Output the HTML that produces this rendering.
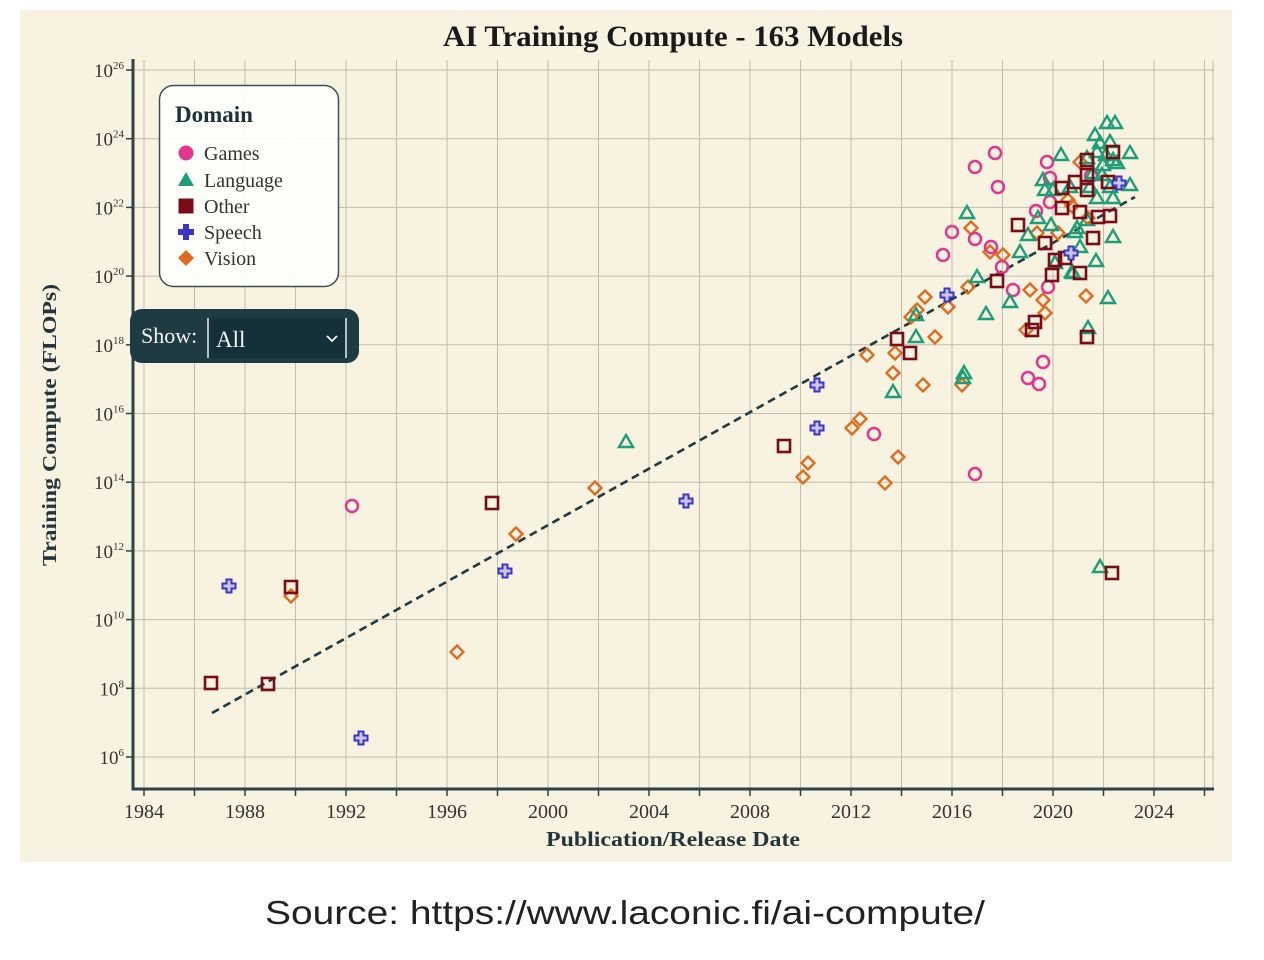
<!DOCTYPE html>
<html><head><meta charset="utf-8"><style>
html,body{margin:0;padding:0;background:#fff;}
svg{display:block;}
</style></head><body>
<svg width="1264" height="960" viewBox="0 0 1264 960" xmlns="http://www.w3.org/2000/svg">
<defs>
<path id="ci" d="M0,-6 A6,6 0 1,1 0,6 A6,6 0 1,1 0,-6Z" fill="none" stroke="#e2358d" stroke-width="2.5"/>
<path id="tr" d="M0,-7 L7,5 L-7,5Z" fill="none" stroke="#1e9e78" stroke-width="2.4" stroke-linejoin="miter"/>
<rect id="sq" x="-6" y="-6" width="12" height="12" fill="none" stroke="#7a0c17" stroke-width="2.6"/>
<path id="pl" d="M-2.5,-6.5 L2.5,-6.5 L2.5,-2.5 L6.5,-2.5 L6.5,2.5 L2.5,2.5 L2.5,6.5 L-2.5,6.5 L-2.5,2.5 L-6.5,2.5 L-6.5,-2.5 L-2.5,-2.5Z" fill="#c9c6f2" stroke="#3b35c6" stroke-width="2"/>
<path id="di" d="M0,-6.5 L6.5,0 L0,6.5 L-6.5,0Z" fill="none" stroke="#e06a1c" stroke-width="2.3"/>
</defs>
<rect x="0" y="0" width="1264" height="960" fill="#fff"/>
<rect x="20" y="10" width="1212" height="852" fill="#f8f2e1"/>

<!-- grid -->
<g stroke="#c0bcae" stroke-width="1">
<line x1="144" y1="60" x2="144" y2="789"/><line x1="194.5" y1="60" x2="194.5" y2="789"/><line x1="245" y1="60" x2="245" y2="789"/><line x1="295.5" y1="60" x2="295.5" y2="789"/><line x1="346" y1="60" x2="346" y2="789"/><line x1="396.5" y1="60" x2="396.5" y2="789"/><line x1="447" y1="60" x2="447" y2="789"/><line x1="497.5" y1="60" x2="497.5" y2="789"/><line x1="548" y1="60" x2="548" y2="789"/><line x1="598.5" y1="60" x2="598.5" y2="789"/><line x1="649" y1="60" x2="649" y2="789"/><line x1="699.5" y1="60" x2="699.5" y2="789"/><line x1="750" y1="60" x2="750" y2="789"/><line x1="800.5" y1="60" x2="800.5" y2="789"/><line x1="851" y1="60" x2="851" y2="789"/><line x1="901.5" y1="60" x2="901.5" y2="789"/><line x1="952" y1="60" x2="952" y2="789"/><line x1="1002.5" y1="60" x2="1002.5" y2="789"/><line x1="1053" y1="60" x2="1053" y2="789"/><line x1="1103.5" y1="60" x2="1103.5" y2="789"/><line x1="1154" y1="60" x2="1154" y2="789"/><line x1="1204.5" y1="60" x2="1204.5" y2="789"/><line x1="1213" y1="60" x2="1213" y2="789"/>
<line x1="133" y1="70" x2="1214" y2="70"/><line x1="133" y1="138.7" x2="1214" y2="138.7"/><line x1="133" y1="207.4" x2="1214" y2="207.4"/><line x1="133" y1="276.1" x2="1214" y2="276.1"/><line x1="133" y1="344.8" x2="1214" y2="344.8"/><line x1="133" y1="413.5" x2="1214" y2="413.5"/><line x1="133" y1="482.2" x2="1214" y2="482.2"/><line x1="133" y1="550.9" x2="1214" y2="550.9"/><line x1="133" y1="619.6" x2="1214" y2="619.6"/><line x1="133" y1="688.3" x2="1214" y2="688.3"/><line x1="133" y1="757" x2="1214" y2="757"/>
</g>

<!-- axes -->
<g stroke="#2a4248" stroke-width="1.5">
<line x1="144" y1="789" x2="144" y2="796"/><line x1="194.5" y1="789" x2="194.5" y2="796"/><line x1="245" y1="789" x2="245" y2="796"/><line x1="295.5" y1="789" x2="295.5" y2="796"/><line x1="346" y1="789" x2="346" y2="796"/><line x1="396.5" y1="789" x2="396.5" y2="796"/><line x1="447" y1="789" x2="447" y2="796"/><line x1="497.5" y1="789" x2="497.5" y2="796"/><line x1="548" y1="789" x2="548" y2="796"/><line x1="598.5" y1="789" x2="598.5" y2="796"/><line x1="649" y1="789" x2="649" y2="796"/><line x1="699.5" y1="789" x2="699.5" y2="796"/><line x1="750" y1="789" x2="750" y2="796"/><line x1="800.5" y1="789" x2="800.5" y2="796"/><line x1="851" y1="789" x2="851" y2="796"/><line x1="901.5" y1="789" x2="901.5" y2="796"/><line x1="952" y1="789" x2="952" y2="796"/><line x1="1002.5" y1="789" x2="1002.5" y2="796"/><line x1="1053" y1="789" x2="1053" y2="796"/><line x1="1103.5" y1="789" x2="1103.5" y2="796"/><line x1="1154" y1="789" x2="1154" y2="796"/><line x1="1204.5" y1="789" x2="1204.5" y2="796"/>
<line x1="126" y1="70" x2="133" y2="70"/><line x1="126" y1="138.7" x2="133" y2="138.7"/><line x1="126" y1="207.4" x2="133" y2="207.4"/><line x1="126" y1="276.1" x2="133" y2="276.1"/><line x1="126" y1="344.8" x2="133" y2="344.8"/><line x1="126" y1="413.5" x2="133" y2="413.5"/><line x1="126" y1="482.2" x2="133" y2="482.2"/><line x1="126" y1="550.9" x2="133" y2="550.9"/><line x1="126" y1="619.6" x2="133" y2="619.6"/><line x1="126" y1="688.3" x2="133" y2="688.3"/><line x1="126" y1="757" x2="133" y2="757"/>
</g>
<line x1="133" y1="59" x2="133" y2="790.5" stroke="#2a4248" stroke-width="3"/>
<line x1="131.5" y1="789" x2="1214" y2="789" stroke="#2a4248" stroke-width="3"/>

<!-- y tick labels -->
<g font-family="Liberation Serif, serif" font-size="19" fill="#333" text-anchor="end">
<text x="124" y="77">10<tspan font-size="11" dy="-8">26</tspan></text>
<text x="124" y="145.7">10<tspan font-size="11" dy="-8">24</tspan></text>
<text x="124" y="214.4">10<tspan font-size="11" dy="-8">22</tspan></text>
<text x="124" y="283.1">10<tspan font-size="11" dy="-8">20</tspan></text>
<text x="124" y="351.8">10<tspan font-size="11" dy="-8">18</tspan></text>
<text x="124" y="420.5">10<tspan font-size="11" dy="-8">16</tspan></text>
<text x="124" y="489.2">10<tspan font-size="11" dy="-8">14</tspan></text>
<text x="124" y="557.9">10<tspan font-size="11" dy="-8">12</tspan></text>
<text x="124" y="626.6">10<tspan font-size="11" dy="-8">10</tspan></text>
<text x="124" y="695.3">10<tspan font-size="11" dy="-8">8</tspan></text>
<text x="124" y="764">10<tspan font-size="11" dy="-8">6</tspan></text>
</g>
<!-- x tick labels -->
<g font-family="Liberation Serif, serif" font-size="20" fill="#333" text-anchor="middle">
<text x="144" y="818">1984</text><text x="245" y="818">1988</text><text x="346" y="818">1992</text><text x="447" y="818">1996</text><text x="548" y="818">2000</text><text x="649" y="818">2004</text><text x="750" y="818">2008</text><text x="851" y="818">2012</text><text x="952" y="818">2016</text><text x="1053" y="818">2020</text><text x="1154" y="818">2024</text>
</g>

<!-- titles -->
<text x="673" y="46" font-family="Liberation Serif, serif" font-weight="bold" font-size="30" fill="#1a1a1a" text-anchor="middle" textLength="460" lengthAdjust="spacingAndGlyphs">AI Training Compute - 163 Models</text>
<text x="673" y="846" font-family="Liberation Serif, serif" font-weight="bold" font-size="21" fill="#22363b" text-anchor="middle" textLength="254" lengthAdjust="spacingAndGlyphs">Publication/Release Date</text>
<text transform="translate(56,425) rotate(-90)" font-family="Liberation Serif, serif" font-weight="bold" font-size="20" fill="#22363b" text-anchor="middle" textLength="282" lengthAdjust="spacingAndGlyphs">Training Compute (FLOPs)</text>

<!-- trend line -->
<line x1="212" y1="713" x2="1135" y2="197" stroke="#1f3a40" stroke-width="2.6" stroke-dasharray="8,5"/>

<!-- Vision -->
<g>
<use href="#di" x="291" y="596"/><use href="#di" x="457" y="652"/><use href="#di" x="516" y="534"/><use href="#di" x="595" y="488"/><use href="#di" x="803" y="477"/><use href="#di" x="808" y="463"/><use href="#di" x="852" y="428"/><use href="#di" x="860" y="419"/><use href="#di" x="867" y="355"/><use href="#di" x="885" y="483"/><use href="#di" x="893" y="373"/><use href="#di" x="895" y="353"/><use href="#di" x="898" y="457"/><use href="#di" x="911" y="317"/><use href="#di" x="917" y="310"/><use href="#di" x="925" y="297"/><use href="#di" x="935" y="337"/><use href="#di" x="923" y="385"/><use href="#di" x="948" y="307"/><use href="#di" x="962" y="385"/><use href="#di" x="968" y="287"/><use href="#di" x="971" y="228"/><use href="#di" x="990" y="252"/><use href="#di" x="1003" y="255"/><use href="#di" x="1026" y="330"/><use href="#di" x="1030" y="290"/><use href="#di" x="1037" y="233"/><use href="#di" x="1043" y="300"/><use href="#di" x="1045" y="313"/><use href="#di" x="1058" y="233"/><use href="#di" x="1068" y="200"/><use href="#di" x="1080" y="162"/><use href="#di" x="1086" y="296"/><use href="#di" x="1088" y="218"/><use href="#di" x="1072" y="206"/>
</g>
<!-- Games -->
<g>
<use href="#ci" x="352" y="506"/><use href="#ci" x="874" y="434"/><use href="#ci" x="975" y="474"/><use href="#ci" x="995" y="153"/><use href="#ci" x="975" y="167"/><use href="#ci" x="998" y="187"/><use href="#ci" x="1047" y="162"/><use href="#ci" x="1050" y="178"/><use href="#ci" x="1050" y="202"/><use href="#ci" x="1036" y="211"/><use href="#ci" x="952" y="232"/><use href="#ci" x="975" y="239"/><use href="#ci" x="943" y="255"/><use href="#ci" x="991" y="247"/><use href="#ci" x="1002" y="267"/><use href="#ci" x="1013" y="290"/><use href="#ci" x="1048" y="287"/><use href="#ci" x="1043" y="362"/><use href="#ci" x="1028" y="378"/><use href="#ci" x="1039" y="384"/><use href="#ci" x="1091" y="176"/>
</g>
<!-- Language -->
<g>
<use href="#tr" x="626" y="442"/><use href="#tr" x="1100" y="567"/><use href="#tr" x="893" y="392"/><use href="#tr" x="916" y="315"/><use href="#tr" x="916" y="337"/><use href="#tr" x="964" y="373"/><use href="#tr" x="963" y="378"/><use href="#tr" x="967" y="213"/><use href="#tr" x="977" y="277"/><use href="#tr" x="986" y="314"/><use href="#tr" x="1010" y="302"/><use href="#tr" x="1020" y="252"/><use href="#tr" x="1028" y="235"/><use href="#tr" x="1038" y="218"/><use href="#tr" x="1043" y="180"/><use href="#tr" x="1045" y="190"/><use href="#tr" x="1051" y="225"/><use href="#tr" x="1053" y="190"/><use href="#tr" x="1055" y="263"/><use href="#tr" x="1061" y="155"/><use href="#tr" x="1070" y="187"/><use href="#tr" x="1072" y="272"/><use href="#tr" x="1075" y="232"/><use href="#tr" x="1077" y="228"/><use href="#tr" x="1080" y="247"/><use href="#tr" x="1087" y="158"/><use href="#tr" x="1087" y="220"/><use href="#tr" x="1088" y="328"/><use href="#tr" x="1090" y="187"/><use href="#tr" x="1093" y="173"/><use href="#tr" x="1095" y="135"/><use href="#tr" x="1096" y="261"/><use href="#tr" x="1097" y="152"/><use href="#tr" x="1097" y="198"/><use href="#tr" x="1100" y="143"/><use href="#tr" x="1102" y="175"/><use href="#tr" x="1103" y="165"/><use href="#tr" x="1107" y="123"/><use href="#tr" x="1108" y="298"/><use href="#tr" x="1110" y="142"/><use href="#tr" x="1110" y="187"/><use href="#tr" x="1113" y="160"/><use href="#tr" x="1113" y="198"/><use href="#tr" x="1113" y="237"/><use href="#tr" x="1115" y="123"/><use href="#tr" x="1117" y="163"/><use href="#tr" x="1130" y="153"/><use href="#tr" x="1130" y="185"/><use href="#tr" x="1073" y="273"/><use href="#tr" x="1106" y="155"/>
</g>
<!-- Other -->
<g>
<use href="#sq" x="211" y="683"/><use href="#sq" x="268" y="684"/><use href="#sq" x="291" y="587"/><use href="#sq" x="492" y="503"/><use href="#sq" x="784" y="446"/><use href="#sq" x="897" y="339"/><use href="#sq" x="910" y="353"/><use href="#sq" x="997" y="281"/><use href="#sq" x="1018" y="225"/><use href="#sq" x="1032" y="330"/><use href="#sq" x="1035" y="322"/><use href="#sq" x="1045" y="243"/><use href="#sq" x="1052" y="275"/><use href="#sq" x="1055" y="260"/><use href="#sq" x="1062" y="188"/><use href="#sq" x="1062" y="208"/><use href="#sq" x="1065" y="258"/><use href="#sq" x="1075" y="182"/><use href="#sq" x="1080" y="212"/><use href="#sq" x="1080" y="273"/><use href="#sq" x="1087" y="160"/><use href="#sq" x="1087" y="175"/><use href="#sq" x="1087" y="190"/><use href="#sq" x="1087" y="337"/><use href="#sq" x="1093" y="238"/><use href="#sq" x="1098" y="217"/><use href="#sq" x="1108" y="182"/><use href="#sq" x="1110" y="216"/><use href="#sq" x="1113" y="152"/><use href="#sq" x="1112" y="573"/>
</g>
<!-- Speech -->
<g>
<use href="#pl" x="229" y="586"/><use href="#pl" x="361" y="738"/><use href="#pl" x="505" y="571"/><use href="#pl" x="686" y="501"/><use href="#pl" x="817" y="385"/><use href="#pl" x="817" y="428"/><use href="#pl" x="947" y="295"/><use href="#pl" x="1071" y="253"/><use href="#pl" x="1119" y="183"/>
</g>

<!-- legend -->
<rect x="159.5" y="85.5" width="179" height="201" rx="14" fill="#fefefc" fill-opacity="0.95" stroke="#3a5055" stroke-width="1.5"/>
<text x="175" y="122" font-family="Liberation Serif, serif" font-weight="bold" font-size="23" fill="#1e3338">Domain</text>
<circle cx="186" cy="153" r="7.5" fill="#e2358d"/>
<path d="M186,172 L194,186 L178,186Z" fill="#1e9e78"/>
<rect x="178.5" y="198.5" width="15" height="15" fill="#7a0c17"/>
<path d="M183,224 L189,224 L189,229 L194,229 L194,235 L189,235 L189,240 L183,240 L183,235 L178,235 L178,229 L183,229Z" fill="#3b35c6"/>
<path d="M186,250 L194,258 L186,266 L178,258Z" fill="#e06a1c"/>
<g font-family="Liberation Serif, serif" font-size="20" fill="#333">
<text x="204" y="160">Games</text>
<text x="204" y="187">Language</text>
<text x="204" y="213">Other</text>
<text x="204" y="239">Speech</text>
<text x="204" y="265">Vision</text>
</g>

<!-- show control -->
<rect x="130" y="309" width="229" height="54" rx="12" fill="#1f3b42"/>
<text x="141" y="343" font-family="Liberation Serif, serif" font-size="22" fill="#f4f4f4">Show:</text>
<rect x="207" y="318" width="140" height="40" fill="#14313a"/>
<line x1="208" y1="318" x2="208" y2="358" stroke="#b9bfc0" stroke-width="2"/>
<line x1="346" y1="318" x2="346" y2="358" stroke="#b9bfc0" stroke-width="2"/>
<text x="216" y="347" font-family="Liberation Serif, serif" font-size="23" fill="#f4f4f4">All</text>
<path d="M327,336 L332,341 L337,336" fill="none" stroke="#f4f4f4" stroke-width="1.8"/>

<!-- source -->
<text x="625" y="924" font-family="Liberation Sans, sans-serif" font-size="33" fill="#222" text-anchor="middle" textLength="720" lengthAdjust="spacingAndGlyphs">Source: https://www.laconic.fi/ai-compute/</text>
</svg>
</body></html>
